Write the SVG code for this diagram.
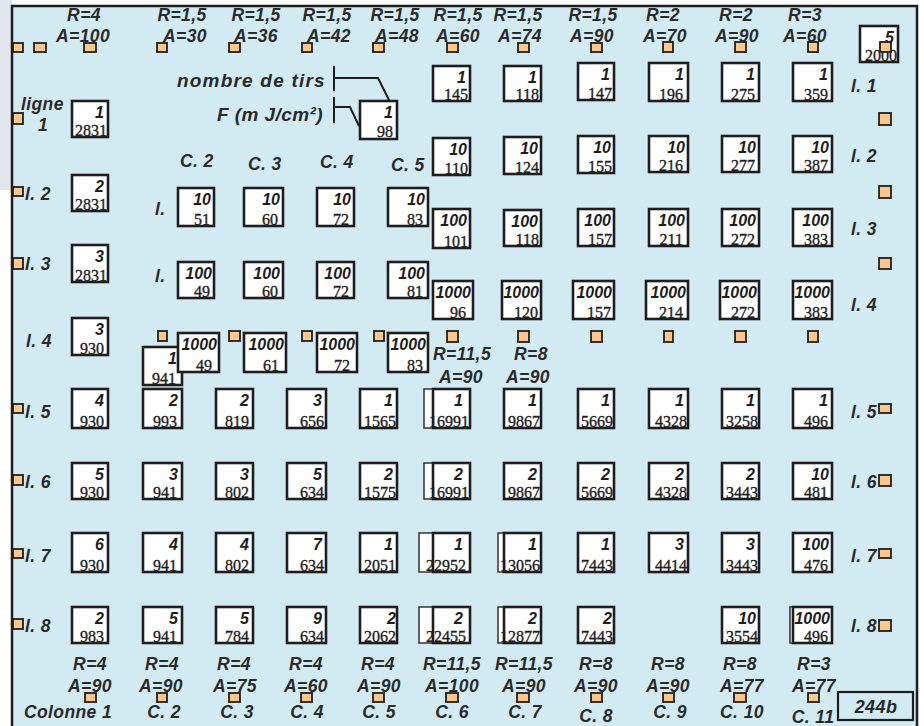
<svg xmlns="http://www.w3.org/2000/svg" width="924" height="726" viewBox="0 0 924 726">
<style>
.bg{fill:#d2ebf3;stroke:#1e1e1e;stroke-width:2.5}
.b{fill:#fff;stroke:#1e1e1e;stroke-width:2.6}
.bk{fill:#fff;stroke:#333;stroke-width:1.5}
.o{fill:#fdc78c;stroke:#1e1e1e;stroke-width:1.8}
.t{font-family:"Liberation Sans",Arial,sans-serif;font-weight:bold;font-style:italic;font-size:16px;fill:#1e1e1e;text-anchor:end}
.n{font-family:"Liberation Serif","Times New Roman",serif;font-size:16px;fill:#1e1e1e;stroke:#1e1e1e;stroke-width:0.35;text-anchor:end}
.l{font-family:"Liberation Sans",Arial,sans-serif;font-weight:bold;font-style:italic;font-size:17.5px;fill:#2a2a2a;letter-spacing:0.4px}
.m{text-anchor:middle}
.ln{fill:none;stroke:#1e1e1e;stroke-width:2}
</style>
<rect x="0" y="0" width="924" height="726" fill="#fff"/>
<rect x="0" y="0" width="12" height="190" fill="#e2e7ee"/>
<rect x="12" y="6" width="905" height="730" class="bg"/>

<g id="labels-top">
<text class="l m" x="84" y="21">R=4</text><text class="l m" x="83" y="42">A=100</text>
<text class="l m" x="182" y="21">R=1,5</text><text class="l m" x="185" y="42">A=30</text>
<text class="l m" x="256" y="21">R=1,5</text><text class="l m" x="256" y="42">A=36</text>
<text class="l m" x="327" y="21">R=1,5</text><text class="l m" x="329" y="42">A=42</text>
<text class="l m" x="395" y="21">R=1,5</text><text class="l m" x="397" y="42">A=48</text>
<text class="l m" x="458" y="21">R=1,5</text><text class="l m" x="458" y="42">A=60</text>
<text class="l m" x="518" y="21">R=1,5</text><text class="l m" x="520" y="42">A=74</text>
<text class="l m" x="593" y="21">R=1,5</text><text class="l m" x="592" y="42">A=90</text>
<text class="l m" x="663" y="21">R=2</text><text class="l m" x="665" y="42">A=70</text>
<text class="l m" x="736" y="21">R=2</text><text class="l m" x="737" y="42">A=90</text>
<text class="l m" x="805" y="21">R=3</text><text class="l m" x="805" y="42">A=60</text>
</g>

<g id="labels-side">
<text class="l" x="21" y="110">ligne</text><text class="l" x="38" y="131">1</text>
<text class="l" x="25" y="200">l. 2</text>
<text class="l" x="25" y="270">l. 3</text>
<text class="l" x="26" y="347">l. 4</text>
<text class="l" x="25" y="418">l. 5</text>
<text class="l" x="25" y="488">l. 6</text>
<text class="l" x="25" y="562">l. 7</text>
<text class="l" x="25" y="632">l. 8</text>
<text class="l" x="155" y="215">l.</text>
<text class="l" x="155" y="282">l.</text>
<text class="l" x="851" y="92">l. 1</text>
<text class="l" x="851" y="162">l. 2</text>
<text class="l" x="851" y="235">l. 3</text>
<text class="l" x="851" y="311">l. 4</text>
<text class="l" x="851" y="418">l. 5</text>
<text class="l" x="851" y="488">l. 6</text>
<text class="l" x="851" y="562">l. 7</text>
<text class="l" x="851" y="632">l. 8</text>
<text class="l" x="180" y="167">C. 2</text>
<text class="l" x="248" y="170">C. 3</text>
<text class="l" x="320" y="168">C. 4</text>
<text class="l" x="391" y="171">C. 5</text>
<text class="l" x="433" y="360">R=11,5</text><text class="l" x="439" y="383">A=90</text>
<text class="l" x="514" y="360">R=8</text><text class="l" x="506" y="383">A=90</text>
</g>

<g id="legend">
<text class="l" x="177" y="87" style="font-size:19px" textLength="148" lengthAdjust="spacing">nombre de tirs</text>
<text class="l" x="217" y="121" style="font-size:19px" textLength="106" lengthAdjust="spacing">F (m J/cm²)</text>
</g>

<g id="labels-bottom">
<text class="l m" x="90" y="670">R=4</text><text class="l m" x="90" y="692">A=90</text><text class="l m" x="68" y="718">Colonne 1</text>
<text class="l m" x="162" y="670">R=4</text><text class="l m" x="161" y="692">A=90</text><text class="l m" x="164" y="718">C. 2</text>
<text class="l m" x="234" y="670">R=4</text><text class="l m" x="235" y="692">A=75</text><text class="l m" x="237" y="718">C. 3</text>
<text class="l m" x="306" y="670">R=4</text><text class="l m" x="306" y="692">A=60</text><text class="l m" x="307" y="718">C. 4</text>
<text class="l m" x="378" y="670">R=4</text><text class="l m" x="379" y="692">A=90</text><text class="l m" x="379" y="718">C. 5</text>
<text class="l m" x="452" y="670">R=11,5</text><text class="l m" x="452" y="692">A=100</text><text class="l m" x="452" y="718">C. 6</text>
<text class="l m" x="524" y="670">R=11,5</text><text class="l m" x="524" y="692">A=90</text><text class="l m" x="525" y="718">C. 7</text>
<text class="l m" x="596" y="670">R=8</text><text class="l m" x="596" y="692">A=90</text><text class="l m" x="596" y="722">C. 8</text>
<text class="l m" x="668" y="670">R=8</text><text class="l m" x="668" y="692">A=90</text><text class="l m" x="670" y="718">C. 9</text>
<text class="l m" x="740" y="670">R=8</text><text class="l m" x="742" y="692">A=77</text><text class="l m" x="742" y="718">C. 10</text>
<text class="l m" x="814" y="670">R=3</text><text class="l m" x="814" y="692">A=77</text><text class="l m" x="813" y="723">C. 11</text>
</g>

<g id="n-ref">
<rect x="838" y="692" width="75" height="28" fill="none" stroke="#1e1e1e" stroke-width="2.2"/>
<text class="l m" x="876" y="713" style="font-size:18px">244b</text>
</g>

<g id="connectors">
<path class="ln" d="M334 66V91M334 78H378L389 100"/>
<path class="ln" d="M334 97V123M334 107H350L359 126"/>
</g>

<g id="n-legend"><rect class="b" x="360" y="101" width="37" height="38"/><text class="t" x="393" y="118">1</text><text class="n" x="393" y="137">98</text></g>
<g id="n-2000"><rect class="b" x="860" y="26" width="38" height="36"/><text class="t" x="894" y="43">5</text><text class="n" x="897" y="60.5">2000</text></g>

<g id="n-l1c1"><rect class="b" x="72" y="101" width="36" height="36"/><text class="t" x="104" y="118">1</text><text class="n" x="107" y="135.5">2831</text></g>
<g id="n-l2c1"><rect class="b" x="72" y="175" width="36" height="36"/><text class="t" x="104" y="192">2</text><text class="n" x="107" y="209.5">2831</text></g>
<g id="n-l3c1"><rect class="b" x="72" y="245" width="36" height="37"/><text class="t" x="104" y="262">3</text><text class="n" x="107" y="280.5">2831</text></g>
<g id="n-l4c1"><rect class="b" x="72" y="318" width="36" height="37"/><text class="t" x="104" y="335">3</text><text class="n" x="104" y="353.5">930</text></g>

<g id="n-l1c6"><rect class="b" x="433" y="66" width="37" height="35"/><text class="t" x="466" y="83">1</text><text class="n" x="468" y="99.5">145</text></g>
<g id="n-l1c7"><rect class="b" x="504" y="66" width="37" height="35"/><text class="t" x="537" y="83">1</text><text class="n" x="539" y="99.5">118</text></g>
<g id="n-l1c8"><rect class="b" x="578" y="63" width="36" height="37"/><text class="t" x="610" y="80">1</text><text class="n" x="612" y="98.5">147</text></g>
<g id="n-l1c9"><rect class="b" x="649" y="63" width="39" height="38"/><text class="t" x="684" y="80">1</text><text class="n" x="683" y="99.5">196</text></g>
<g id="n-l1c10"><rect class="b" x="722" y="63" width="37" height="38"/><text class="t" x="755" y="80">1</text><text class="n" x="755" y="99.5">275</text></g>
<g id="n-l1c11"><rect class="b" x="793" y="63" width="39" height="38"/><text class="t" x="828" y="80">1</text><text class="n" x="828" y="99.5">359</text></g>

<g id="n-l2c6"><rect class="b" x="433" y="138" width="37" height="37"/><text class="t" x="467" y="155">10</text><text class="n" x="468" y="173.5">110</text></g>
<g id="n-l2c7"><rect class="b" x="504" y="137" width="37" height="37"/><text class="t" x="538" y="154">10</text><text class="n" x="539" y="172.5">124</text></g>
<g id="n-l2c8"><rect class="b" x="578" y="136" width="36" height="37"/><text class="t" x="611" y="153">10</text><text class="n" x="612" y="171.5">155</text></g>
<g id="n-l2c9"><rect class="b" x="649" y="136" width="39" height="36"/><text class="t" x="685" y="153">10</text><text class="n" x="683" y="170.5">216</text></g>
<g id="n-l2c10"><rect class="b" x="722" y="136" width="37" height="36"/><text class="t" x="756" y="153">10</text><text class="n" x="755" y="170.5">277</text></g>
<g id="n-l2c11"><rect class="b" x="793" y="136" width="39" height="36"/><text class="t" x="829" y="153">10</text><text class="n" x="828" y="170.5">387</text></g>

<g id="n-l3c6"><rect class="b" x="433" y="209" width="37" height="39"/><text class="t" x="467" y="226">100</text><text class="n" x="468" y="246.5">101</text></g>
<g id="n-l3c7"><rect class="b" x="504" y="210" width="37" height="36"/><text class="t" x="538" y="227">100</text><text class="n" x="539" y="244.5">118</text></g>
<g id="n-l3c8"><rect class="b" x="578" y="209" width="36" height="37"/><text class="t" x="611" y="226">100</text><text class="n" x="612" y="244.5">157</text></g>
<g id="n-l3c9"><rect class="b" x="649" y="209" width="39" height="37"/><text class="t" x="685" y="226">100</text><text class="n" x="683" y="244.5">211</text></g>
<g id="n-l3c10"><rect class="b" x="722" y="209" width="37" height="37"/><text class="t" x="756" y="226">100</text><text class="n" x="755" y="244.5">272</text></g>
<g id="n-l3c11"><rect class="b" x="793" y="209" width="39" height="37"/><text class="t" x="829" y="226">100</text><text class="n" x="828" y="244.5">383</text></g>

<g id="n-l4c6"><rect class="b" x="433" y="281" width="40" height="38"/><text class="t" x="471" y="298">1000</text><text class="n" x="466" y="317.5">96</text></g>
<g id="n-l4c7"><rect class="b" x="502" y="281" width="39" height="38"/><text class="t" x="539" y="298">1000</text><text class="n" x="538" y="317.5">120</text></g>
<g id="n-l4c8"><rect class="b" x="573" y="281" width="41" height="38"/><text class="t" x="612" y="298">1000</text><text class="n" x="611" y="317.5">157</text></g>
<g id="n-l4c9"><rect class="b" x="646" y="281" width="42" height="38"/><text class="t" x="686" y="298">1000</text><text class="n" x="683" y="317.5">214</text></g>
<g id="n-l4c10"><rect class="b" x="720" y="281" width="39" height="38"/><text class="t" x="757" y="298">1000</text><text class="n" x="755" y="317.5">272</text></g>
<g id="n-l4c11"><rect class="b" x="793" y="281" width="39" height="38"/><text class="t" x="830" y="298">1000</text><text class="n" x="828" y="317.5">383</text></g>

<g id="n-m2c2"><rect class="b" x="178" y="188" width="36" height="38"/><text class="t" x="211" y="205">10</text><text class="n" x="210" y="224.5">51</text></g>
<g id="n-m2c3"><rect class="b" x="244" y="188" width="39" height="38"/><text class="t" x="280" y="205">10</text><text class="n" x="278" y="224.5">60</text></g>
<g id="n-m2c4"><rect class="b" x="317" y="188" width="37" height="38"/><text class="t" x="351" y="205">10</text><text class="n" x="349" y="224.5">72</text></g>
<g id="n-m2c5"><rect class="b" x="388" y="188" width="40" height="38"/><text class="t" x="425" y="205">10</text><text class="n" x="423" y="224.5">83</text></g>

<g id="n-m3c2"><rect class="b" x="178" y="262" width="36" height="36"/><text class="t" x="212" y="279">100</text><text class="n" x="210" y="296.5">49</text></g>
<g id="n-m3c3"><rect class="b" x="244" y="262" width="39" height="36"/><text class="t" x="280" y="279">100</text><text class="n" x="278" y="296.5">60</text></g>
<g id="n-m3c4"><rect class="b" x="317" y="262" width="37" height="36"/><text class="t" x="351" y="279">100</text><text class="n" x="349" y="296.5">72</text></g>
<g id="n-m3c5"><rect class="b" x="388" y="262" width="40" height="36"/><text class="t" x="425" y="279">100</text><text class="n" x="423" y="296.5">81</text></g>

<g id="n-m4c1"><rect class="b" x="143" y="347" width="39" height="38"/><text class="t" x="177" y="364">1</text><text class="n" x="176" y="383.5">941</text></g>
<g id="n-m4c2"><rect class="b" x="178" y="333" width="41" height="39"/><text class="t" x="217" y="350">1000</text><text class="n" x="212" y="370.5">49</text></g>
<g id="n-m4c3"><rect class="b" x="244" y="333" width="42" height="39"/><text class="t" x="284" y="350">1000</text><text class="n" x="279" y="370.5">61</text></g>
<g id="n-m4c4"><rect class="b" x="317" y="333" width="40" height="39"/><text class="t" x="355" y="350">1000</text><text class="n" x="350" y="370.5">72</text></g>
<g id="n-m4c5"><rect class="b" x="388" y="333" width="40" height="39"/><text class="t" x="426" y="350">1000</text><text class="n" x="423" y="370.5">83</text></g>

<!-- row 5 -->
<g id="n-r5c1"><rect class="b" x="72" y="389" width="36" height="39"/><text class="t" x="104" y="406">4</text><text class="n" x="104" y="426.5">930</text></g>
<g id="n-r5c2"><rect class="b" x="143" y="389" width="39" height="39"/><text class="t" x="178" y="406">2</text><text class="n" x="177" y="426.5">993</text></g>
<g id="n-r5c3"><rect class="b" x="216" y="389" width="37" height="39"/><text class="t" x="249" y="406">2</text><text class="n" x="249" y="426.5">819</text></g>
<g id="n-r5c4"><rect class="b" x="287" y="389" width="39" height="39"/><text class="t" x="322" y="406">3</text><text class="n" x="324" y="426.5">656</text></g>
<g id="n-r5c5"><rect class="b" x="360" y="389" width="37" height="39"/><text class="t" x="393" y="406">1</text><text class="n" x="396" y="426.5">1565</text></g>
<g id="n-r5c6"><rect class="bk" x="424" y="389" width="40" height="39"/><rect class="b" x="433" y="389" width="37" height="39"/><text class="t" x="463" y="406">1</text><text class="n" x="469" y="426.5">16991</text></g>
<g id="n-r5c7"><rect class="b" x="504" y="389" width="37" height="39"/><text class="t" x="537" y="406">1</text><text class="n" x="540" y="426.5">9867</text></g>
<g id="n-r5c8"><rect class="b" x="578" y="389" width="36" height="39"/><text class="t" x="610" y="406">1</text><text class="n" x="613" y="426.5">5669</text></g>
<g id="n-r5c9"><rect class="b" x="649" y="389" width="39" height="39"/><text class="t" x="684" y="406">1</text><text class="n" x="687" y="426.5">4328</text></g>
<g id="n-r5c10"><rect class="b" x="722" y="389" width="37" height="39"/><text class="t" x="755" y="406">1</text><text class="n" x="758" y="426.5">3258</text></g>
<g id="n-r5c11"><rect class="b" x="793" y="389" width="39" height="39"/><text class="t" x="828" y="406">1</text><text class="n" x="828" y="426.5">496</text></g>

<!-- row 6 -->
<g id="n-r6c1"><rect class="b" x="72" y="463" width="36" height="36"/><text class="t" x="104" y="480">5</text><text class="n" x="104" y="497.5">930</text></g>
<g id="n-r6c2"><rect class="b" x="143" y="463" width="39" height="36"/><text class="t" x="178" y="480">3</text><text class="n" x="177" y="497.5">941</text></g>
<g id="n-r6c3"><rect class="b" x="216" y="463" width="37" height="36"/><text class="t" x="249" y="480">3</text><text class="n" x="249" y="497.5">802</text></g>
<g id="n-r6c4"><rect class="b" x="287" y="463" width="39" height="36"/><text class="t" x="322" y="480">5</text><text class="n" x="324" y="497.5">634</text></g>
<g id="n-r6c5"><rect class="b" x="360" y="463" width="37" height="36"/><text class="t" x="393" y="480">2</text><text class="n" x="396" y="497.5">1575</text></g>
<g id="n-r6c6"><rect class="bk" x="424" y="463" width="40" height="36"/><rect class="b" x="433" y="463" width="37" height="36"/><text class="t" x="463" y="480">2</text><text class="n" x="469" y="497.5">16991</text></g>
<g id="n-r6c7"><rect class="b" x="504" y="463" width="37" height="36"/><text class="t" x="537" y="480">2</text><text class="n" x="540" y="497.5">9867</text></g>
<g id="n-r6c8"><rect class="b" x="578" y="463" width="36" height="36"/><text class="t" x="610" y="480">2</text><text class="n" x="613" y="497.5">5669</text></g>
<g id="n-r6c9"><rect class="b" x="649" y="463" width="39" height="36"/><text class="t" x="684" y="480">2</text><text class="n" x="687" y="497.5">4328</text></g>
<g id="n-r6c10"><rect class="b" x="722" y="463" width="37" height="36"/><text class="t" x="755" y="480">2</text><text class="n" x="758" y="497.5">3443</text></g>
<g id="n-r6c11"><rect class="b" x="793" y="463" width="39" height="36"/><text class="t" x="829" y="480">10</text><text class="n" x="828" y="497.5">481</text></g>

<!-- row 7 -->
<g id="n-r7c1"><rect class="b" x="72" y="533" width="36" height="39"/><text class="t" x="104" y="550">6</text><text class="n" x="104" y="570.5">930</text></g>
<g id="n-r7c2"><rect class="b" x="143" y="533" width="39" height="39"/><text class="t" x="178" y="550">4</text><text class="n" x="177" y="570.5">941</text></g>
<g id="n-r7c3"><rect class="b" x="216" y="533" width="37" height="39"/><text class="t" x="249" y="550">4</text><text class="n" x="249" y="570.5">802</text></g>
<g id="n-r7c4"><rect class="b" x="287" y="533" width="39" height="39"/><text class="t" x="322" y="550">7</text><text class="n" x="324" y="570.5">634</text></g>
<g id="n-r7c5"><rect class="b" x="360" y="533" width="37" height="39"/><text class="t" x="393" y="550">1</text><text class="n" x="396" y="570.5">2051</text></g>
<g id="n-r7c6"><rect class="bk" x="419" y="533" width="40" height="39"/><rect class="b" x="433" y="533" width="37" height="39"/><text class="t" x="463" y="550">1</text><text class="n" x="466" y="570.5">22952</text></g>
<g id="n-r7c7"><rect class="bk" x="498" y="533" width="40" height="39"/><rect class="b" x="504" y="533" width="37" height="39"/><text class="t" x="537" y="550">1</text><text class="n" x="540" y="570.5">13056</text></g>
<g id="n-r7c8"><rect class="b" x="578" y="533" width="36" height="39"/><text class="t" x="610" y="550">1</text><text class="n" x="613" y="570.5">7443</text></g>
<g id="n-r7c9"><rect class="b" x="649" y="533" width="39" height="39"/><text class="t" x="684" y="550">3</text><text class="n" x="687" y="570.5">4414</text></g>
<g id="n-r7c10"><rect class="b" x="722" y="533" width="37" height="39"/><text class="t" x="755" y="550">3</text><text class="n" x="758" y="570.5">3443</text></g>
<g id="n-r7c11"><rect class="b" x="793" y="533" width="39" height="39"/><text class="t" x="829" y="550">100</text><text class="n" x="828" y="570.5">476</text></g>

<!-- row 8 -->
<g id="n-r8c1"><rect class="b" x="72" y="607" width="36" height="36"/><text class="t" x="104" y="624">2</text><text class="n" x="104" y="641.5">983</text></g>
<g id="n-r8c2"><rect class="b" x="143" y="607" width="39" height="36"/><text class="t" x="178" y="624">5</text><text class="n" x="177" y="641.5">941</text></g>
<g id="n-r8c3"><rect class="b" x="216" y="607" width="37" height="36"/><text class="t" x="249" y="624">5</text><text class="n" x="249" y="641.5">784</text></g>
<g id="n-r8c4"><rect class="b" x="287" y="607" width="39" height="36"/><text class="t" x="322" y="624">9</text><text class="n" x="324" y="641.5">634</text></g>
<g id="n-r8c5"><rect class="b" x="360" y="607" width="37" height="36"/><text class="t" x="396" y="624">2</text><text class="n" x="396" y="641.5">2062</text></g>
<g id="n-r8c6"><rect class="bk" x="419" y="607" width="40" height="36"/><rect class="b" x="433" y="607" width="37" height="36"/><text class="t" x="463" y="624">2</text><text class="n" x="466" y="641.5">22455</text></g>
<g id="n-r8c7"><rect class="bk" x="498" y="607" width="40" height="36"/><rect class="b" x="504" y="607" width="37" height="36"/><text class="t" x="537" y="624">2</text><text class="n" x="540" y="641.5">12877</text></g>
<g id="n-r8c8"><rect class="b" x="578" y="607" width="36" height="36"/><text class="t" x="612" y="624">2</text><text class="n" x="613" y="641.5">7443</text></g>
<g id="n-r8c10"><rect class="b" x="722" y="607" width="37" height="36"/><text class="t" x="756" y="624">10</text><text class="n" x="758" y="641.5">3554</text></g>
<g id="n-r8c11"><rect class="bk" x="790" y="607" width="40" height="36"/><rect class="b" x="793" y="607" width="39" height="36"/><text class="t" x="830" y="624">1000</text><text class="n" x="828" y="641.5">496</text></g>

<g id="markers">
<rect class="o" x="13" y="43" width="10" height="9"/>
<rect class="o" x="34" y="43" width="12" height="9"/>
<rect class="o" x="84" y="43" width="12" height="9"/>
<rect class="o" x="157" y="43" width="10" height="9"/>
<rect class="o" x="229" y="43" width="11" height="9"/>
<rect class="o" x="302" y="43" width="10" height="9"/>
<rect class="o" x="373" y="43" width="11" height="9"/>
<rect class="o" x="447" y="43" width="11" height="9"/>
<rect class="o" x="518" y="43" width="11" height="9"/>
<rect class="o" x="591" y="43" width="11" height="9"/>
<rect class="o" x="663" y="42" width="10" height="10"/>
<rect class="o" x="735" y="42" width="11" height="10"/>
<rect class="o" x="808" y="42" width="10" height="10"/>
<rect class="o" x="880" y="42" width="11" height="10"/>
<rect class="o" x="13" y="113" width="10" height="11"/>
<rect class="o" x="13" y="187" width="10" height="9"/>
<rect class="o" x="13" y="258" width="10" height="11"/>
<rect class="o" x="13" y="404" width="10" height="9"/>
<rect class="o" x="13" y="475" width="10" height="10"/>
<rect class="o" x="13" y="549" width="10" height="9"/>
<rect class="o" x="13" y="619" width="10" height="10"/>
<rect class="o" x="879" y="113" width="12" height="12"/>
<rect class="o" x="879" y="186" width="12" height="12"/>
<rect class="o" x="879" y="258" width="12" height="11"/>
<rect class="o" x="879" y="404" width="12" height="9"/>
<rect class="o" x="879" y="475" width="12" height="11"/>
<rect class="o" x="879" y="549" width="12" height="9"/>
<rect class="o" x="879" y="620" width="12" height="11"/>
<rect class="o" x="158" y="331" width="9" height="10"/>
<rect class="o" x="229" y="331" width="11" height="10"/>
<rect class="o" x="302" y="331" width="10" height="10"/>
<rect class="o" x="374" y="331" width="10" height="10"/>
<rect class="o" x="447" y="331" width="11" height="11"/>
<rect class="o" x="518" y="331" width="11" height="11"/>
<rect class="o" x="591" y="331" width="11" height="11"/>
<rect class="o" x="664" y="331" width="9" height="11"/>
<rect class="o" x="735" y="331" width="11" height="11"/>
<rect class="o" x="808" y="331" width="10" height="11"/>
<rect class="o" x="85" y="693" width="11" height="9"/>
<rect class="o" x="157" y="693" width="10" height="9"/>
<rect class="o" x="229" y="693" width="11" height="9"/>
<rect class="o" x="301" y="693" width="11" height="9"/>
<rect class="o" x="373" y="693" width="11" height="9"/>
<rect class="o" x="446" y="693" width="12" height="9"/>
<rect class="o" x="517" y="693" width="12" height="9"/>
<rect class="o" x="591" y="693" width="11" height="9"/>
<rect class="o" x="663" y="693" width="11" height="9"/>
<rect class="o" x="734" y="693" width="12" height="9"/>
<rect class="o" x="808" y="693" width="11" height="9"/>
</g>
</svg>
